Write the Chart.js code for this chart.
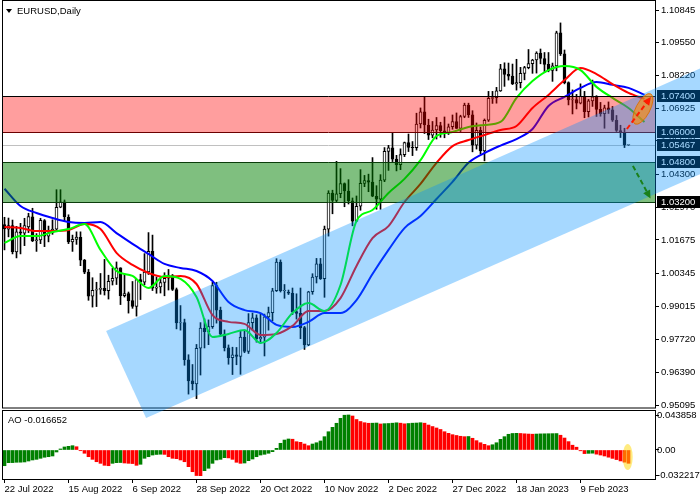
<!DOCTYPE html>
<html>
<head>
<meta charset="utf-8">
<script src="https://cdn.jsdelivr.net/npm/chart.js@4.4.0/dist/chart.umd.min.js"></script>
<style>
  html, body { margin: 0; padding: 0; background: #fff; }
  #wrap { width: 700px; height: 500px; position: relative; }
</style>
</head>
<body>
<div id="wrap"><canvas id="chart" width="700" height="500"></canvas></div>
<script>
// EURUSD daily bars, 22 Jul 2022 .. 27 Feb 2023
const opens = [
  1.0229, 1.0211, 1.0225, 1.0120, 1.0200, 1.0195, 1.0220, 1.0260, 1.0165, 1.0168,
  1.0245, 1.0183, 1.0196, 1.0211, 1.0298, 1.0320, 1.0258, 1.0160, 1.0170, 1.0178,
  1.0087, 1.0040, 0.9943, 0.9967, 0.9970, 0.9975, 0.9965, 1.0003, 1.0015, 1.0056,
  0.9945, 0.9954, 0.9926, 0.9903, 1.0010, 0.9999, 1.0040, 1.0122, 0.9975, 0.9980,
  0.9998, 1.0015, 1.0026, 0.9970, 0.9837, 0.9838, 0.9690, 0.9606, 0.9594, 0.9736,
  0.9816, 0.9802, 0.9822, 0.9986, 0.9888, 0.9792, 0.9738, 0.9698, 0.9710, 0.9703,
  0.9780, 0.9723, 0.9838, 0.9857, 0.9773, 0.9780, 0.9861, 0.9878, 0.9965, 1.0079,
  0.9965, 0.9960, 0.9955, 0.9882, 0.9875, 0.9818, 0.9749, 0.9961, 1.0020, 1.0072,
  1.0013, 1.0211, 1.0355, 1.0325, 1.0352, 1.0392, 1.0363, 1.0324, 1.0243, 1.0302,
  1.0393, 1.0404, 1.0398, 1.0342, 1.0330, 1.0406, 1.0521, 1.0535, 1.0490, 1.0468,
  1.0508, 1.0556, 1.0537, 1.0536, 1.0630, 1.0678, 1.0626, 1.0585, 1.0606, 1.0624,
  1.0603, 1.0594, 1.0619, 1.0640, 1.0612, 1.0660, 1.0705, 1.0667, 1.0546, 1.0605,
  1.0523, 1.0645, 1.0732, 1.0735, 1.0762, 1.0850, 1.0828, 1.0821, 1.0790, 1.0795,
  1.0832, 1.0855, 1.0871, 1.0885, 1.0913, 1.0891, 1.0868, 1.0844, 1.0862, 1.0993,
  1.0910, 1.0795, 1.0726, 1.0727, 1.0713, 1.0740, 1.0679, 1.0722, 1.0738, 1.0688,
  1.0671, 1.0694, 1.0686, 1.0645, 1.0604, 1.0595, 1.0547
];
const highs = [
  1.0258, 1.0255, 1.0247, 1.0222, 1.0234, 1.0254, 1.0274, 1.0294, 1.0193, 1.0254,
  1.0249, 1.0223, 1.0248, 1.0368, 1.0368, 1.0327, 1.0268, 1.0187, 1.0200, 1.0200,
  1.0090, 1.0050, 1.0017, 0.9999, 1.0034, 1.0090, 1.0027, 1.0055, 1.0080, 1.0057,
  1.0033, 0.9960, 1.0002, 1.0011, 1.0031, 1.0113, 1.0197, 1.0187, 1.0020, 1.0017,
  1.0037, 1.0050, 1.0030, 0.9976, 0.9906, 0.9852, 0.9710, 0.9671, 0.9751, 0.9838,
  0.9853, 0.9849, 0.9999, 0.9999, 0.9900, 0.9809, 0.9749, 0.9740, 0.9739, 0.9807,
  0.9807, 0.9874, 0.9876, 0.9869, 0.9874, 0.9872, 0.9900, 0.9975, 1.0093, 1.0088,
  0.9990, 0.9968, 0.9976, 0.9953, 0.9976, 0.9823, 0.9963, 1.0033, 1.0094, 1.0094,
  1.0223, 1.0364, 1.0366, 1.0481, 1.0452, 1.0395, 1.0408, 1.0335, 1.0343, 1.0448,
  1.0425, 1.0430, 1.0496, 1.0384, 1.0428, 1.0536, 1.0545, 1.0595, 1.0505, 1.0531,
  1.0558, 1.0590, 1.0560, 1.0673, 1.0694, 1.0737, 1.0649, 1.0640, 1.0656, 1.0637,
  1.0658, 1.0630, 1.0666, 1.0674, 1.0665, 1.0713, 1.0713, 1.0683, 1.0634, 1.0618,
  1.0650, 1.0760, 1.0760, 1.0776, 1.0868, 1.0874, 1.0873, 1.0869, 1.0888, 1.0856,
  1.0860, 1.0927, 1.0888, 1.0918, 1.0929, 1.0915, 1.0915, 1.0873, 1.1000, 1.1033,
  1.0925, 1.0798, 1.0766, 1.0748, 1.0790, 1.0760, 1.0728, 1.0805, 1.0743, 1.0716,
  1.0705, 1.0718, 1.0700, 1.0664, 1.0625, 1.0613, 1.0549
];
const lows = [
  1.0128, 1.0180, 1.0112, 1.0096, 1.0112, 1.0145, 1.0197, 1.0161, 1.0122, 1.0153,
  1.0141, 1.0160, 1.0190, 1.0202, 1.0296, 1.0243, 1.0153, 1.0122, 1.0150, 1.0065,
  1.0033, 0.9927, 0.9900, 0.9902, 0.9951, 0.9948, 0.9932, 0.9988, 0.9990, 0.9910,
  0.9940, 0.9876, 0.9895, 0.9864, 0.9930, 0.9989, 1.0030, 0.9966, 0.9955, 0.9956,
  0.9945, 0.9968, 0.9966, 0.9813, 0.9808, 0.9668, 0.9553, 0.9570, 0.9535, 0.9629,
  0.9737, 0.9750, 0.9815, 0.9836, 0.9785, 0.9725, 0.9672, 0.9631, 0.9670, 0.9632,
  0.9718, 0.9715, 0.9808, 0.9760, 0.9755, 0.9705, 0.9808, 0.9845, 0.9962, 0.9960,
  0.9935, 0.9950, 0.9870, 0.9852, 0.9774, 0.9731, 0.9746, 0.9951, 0.9996, 1.0010,
  0.9939, 1.0183, 1.0272, 1.0318, 1.0336, 1.0300, 1.0311, 1.0224, 1.0240, 1.0286,
  1.0380, 1.0360, 1.0340, 1.0290, 1.0290, 1.0400, 1.0445, 1.0480, 1.0443, 1.0448,
  1.0500, 1.0520, 1.0504, 1.0525, 1.0614, 1.0592, 1.0568, 1.0575, 1.0570, 1.0577,
  1.0575, 1.0588, 1.0609, 1.0612, 1.0600, 1.0655, 1.0656, 1.0519, 1.0530, 1.0511,
  1.0483, 1.0640, 1.0712, 1.0713, 1.0760, 1.0780, 1.0805, 1.0787, 1.0765, 1.0774,
  1.0806, 1.0850, 1.0832, 1.0833, 1.0870, 1.0835, 1.0838, 1.0800, 1.0842, 1.0903,
  1.0790, 1.0706, 1.0670, 1.0690, 1.0710, 1.0655, 1.0658, 1.0700, 1.0660, 1.0661,
  1.0613, 1.0672, 1.0640, 1.0600, 1.0576, 1.0536, 1.0545
];
const closes = [
  1.0212, 1.0225, 1.0121, 1.0200, 1.0195, 1.0225, 1.0261, 1.0164, 1.0168, 1.0246,
  1.0183, 1.0196, 1.0211, 1.0298, 1.0320, 1.0260, 1.0160, 1.0170, 1.0179, 1.0087,
  1.0039, 0.9943, 0.9967, 0.9970, 0.9975, 0.9965, 1.0003, 1.0015, 1.0056, 0.9945,
  0.9954, 0.9926, 0.9903, 1.0010, 0.9999, 1.0040, 1.0122, 0.9975, 0.9980, 0.9998,
  1.0015, 1.0026, 0.9970, 0.9837, 0.9838, 0.9690, 0.9606, 0.9594, 0.9736, 0.9816,
  0.9802, 0.9822, 0.9986, 0.9888, 0.9792, 0.9738, 0.9698, 0.9710, 0.9703, 0.9780,
  0.9723, 0.9838, 0.9857, 0.9773, 0.9780, 0.9861, 0.9878, 0.9965, 1.0079, 0.9965,
  0.9967, 0.9955, 0.9882, 0.9875, 0.9818, 0.9749, 0.9961, 1.0020, 1.0072, 1.0013,
  1.0211, 1.0355, 1.0325, 1.0352, 1.0392, 1.0363, 1.0324, 1.0243, 1.0302, 1.0393,
  1.0404, 1.0398, 1.0342, 1.0330, 1.0406, 1.0521, 1.0535, 1.0490, 1.0468, 1.0508,
  1.0556, 1.0537, 1.0536, 1.0630, 1.0678, 1.0626, 1.0585, 1.0606, 1.0624, 1.0603,
  1.0594, 1.0619, 1.0640, 1.0612, 1.0660, 1.0705, 1.0667, 1.0546, 1.0605, 1.0523,
  1.0645, 1.0732, 1.0735, 1.0762, 1.0850, 1.0828, 1.0821, 1.0790, 1.0795, 1.0832,
  1.0855, 1.0871, 1.0885, 1.0913, 1.0891, 1.0868, 1.0844, 1.0862, 1.0993, 1.0910,
  1.0795, 1.0726, 1.0727, 1.0713, 1.0740, 1.0679, 1.0722, 1.0738, 1.0688, 1.0671,
  1.0694, 1.0686, 1.0645, 1.0604, 1.0595, 1.0547, 1.0548
];

// Alligator lines, one reading every 4 bars
const maIndex = [0, 4, 8, 12, 16, 20, 24, 28, 32, 36, 40, 44, 48, 52, 56, 60, 64, 68, 72, 76, 80,
  84, 88, 92, 96, 100, 104, 108, 112, 116, 120, 124, 128, 132, 136, 140, 144, 148, 152, 156, 160];
const jaw = [1.0372, 1.0303, 1.0275, 1.0255, 1.0239, 1.0235, 1.0239, 1.0195, 1.0152, 1.0112,
  1.0072, 1.0056, 1.0044, 1.0004, 0.9920, 0.9888, 0.9876, 0.9829, 0.9821, 0.9841, 0.9876,
  0.9876, 0.9928, 1.0032, 1.0128, 1.0215, 1.0263, 1.0331, 1.0399, 1.0475, 1.0514, 1.0544,
  1.0570, 1.0610, 1.0702, 1.0738, 1.0774, 1.0797, 1.0786, 1.0774, 1.0746];
const teeth = [1.0219, 1.0215, 1.0203, 1.0203, 1.0207, 1.0231, 1.0211, 1.0116, 1.0068, 1.0036,
  1.0020, 1.0024, 0.9992, 0.9868, 0.9841, 0.9833, 0.9789, 0.9793, 0.9825, 0.9884, 0.9884,
  0.9936, 1.0064, 1.0175, 1.0223, 1.0319, 1.0391, 1.0475, 1.0542, 1.0566, 1.0586, 1.0606,
  1.0622, 1.0694, 1.0746, 1.0805, 1.0853, 1.0829, 1.0789, 1.0754, 1.0730];
const lips = [1.0156, 1.0183, 1.0183, 1.0199, 1.0211, 1.0231, 1.0128, 1.0044, 1.0024, 0.9976,
  1.0024, 1.0012, 0.9940, 0.9781, 0.9793, 0.9809, 0.9757, 0.9797, 0.9876, 0.9916, 0.9884,
  0.9988, 1.0243, 1.0287, 1.0355, 1.0411, 1.0486, 1.0582, 1.0598, 1.0618, 1.0626, 1.0638,
  1.0734, 1.0801, 1.0845, 1.0861, 1.0845, 1.0778, 1.0734, 1.0694, 1.0638];

// Awesome Oscillator, one per bar
const aoValues = [
  -0.0197, -0.0159, -0.0158, -0.0154, -0.0153, -0.0150, -0.0138, -0.0125, -0.0117, -0.0104,
  -0.0091, -0.0084, -0.0075, -0.0025, 0.0013, 0.0038, 0.0046, 0.0054, 0.0041, -0.0009,
  -0.0041, -0.0084, -0.0117, -0.0147, -0.0167, -0.0192, -0.0197, -0.0167, -0.0159, -0.0157,
  -0.0163, -0.0167, -0.0170, -0.0192, -0.0179, -0.0104, -0.0084, -0.0063, -0.0056, -0.0053,
  -0.0055, -0.0084, -0.0104, -0.0109, -0.0125, -0.0147, -0.0209, -0.0272, -0.0320, -0.0322,
  -0.0259, -0.0229, -0.0167, -0.0125, -0.0117, -0.0096, -0.0099, -0.0117, -0.0154, -0.0167,
  -0.0163, -0.0134, -0.0113, -0.0084, -0.0063, -0.0054, -0.0041, -0.0021, 0.0021, 0.0084,
  0.0125, 0.0138, 0.0135, 0.0104, 0.0096, 0.0075, 0.0054, 0.0075, 0.0091, 0.0113,
  0.0167, 0.0229, 0.0284, 0.0335, 0.0397, 0.0436, 0.0439, 0.0426, 0.0382, 0.0357,
  0.0342, 0.0335, 0.0336, 0.0338, 0.0326, 0.0330, 0.0332, 0.0336, 0.0341, 0.0336,
  0.0328, 0.0332, 0.0336, 0.0338, 0.0342, 0.0336, 0.0313, 0.0294, 0.0276, 0.0257,
  0.0229, 0.0209, 0.0192, 0.0182, 0.0172, 0.0167, 0.0169, 0.0147, 0.0117, 0.0091,
  0.0071, 0.0054, 0.0066, 0.0091, 0.0134, 0.0167, 0.0197, 0.0207, 0.0209, 0.0207,
  0.0203, 0.0200, 0.0198, 0.0200, 0.0202, 0.0203, 0.0204, 0.0205, 0.0206, 0.0185,
  0.0150, 0.0105, 0.0060, 0.0035, -0.0010, -0.0045, -0.0042, -0.0040, -0.0052, -0.0063,
  -0.0075, -0.0090, -0.0105, -0.0120, -0.0137, -0.0152, -0.016652
];

const dateTicks = [0, 16, 32, 48, 64, 80, 96, 112, 128, 144];
const dateLabels = ['22 Jul 2022', '15 Aug 2022', '6 Sep 2022', '28 Sep 2022', '20 Oct 2022',
  '10 Nov 2022', '2 Dec 2022', '27 Dec 2022', '18 Jan 2023', '9 Feb 2023'];
const priceTicks = [1.10845, 1.09550, 1.08220, 1.06925, 1.05630, 1.04300, 1.02970,
  1.01675, 1.00345, 0.99015, 0.97720, 0.96390, 0.95095];
const aoTicks = [0.043858, 0, -0.032217];

// drawn objects
const redZone = [1.0600, 1.0740];
const greenZone = [1.0320, 1.0480];
const lastPrice = 1.05467;
const levelLabels = [1.07400, 1.06000, 1.05467, 1.04800, 1.03200];
const channel = [[25.4, 0.98046], [35.4, 0.94577], [173.9, 1.04298], [173.9, 1.08512]];
const targetMark = [159.6, 1.0690];
const redArrow = [[155.6, 1.0610], [161.6, 1.0738]];
const greenArrow = [[157.1, 1.0463], [161.5, 1.0333]];
const aoMark = [155.8, -0.0088];

const font = { family: '"Liberation Sans", Arial, sans-serif', size: 9.5 };
const fontCss = '9.5px "Liberation Sans", Arial, sans-serif';

const bars = opens.map((_, i) => i);
const wicks = bars.map(i => ({ x: i, y: [lows[i], highs[i]] }));
const bodies = bars.map(i => ({ x: i, y: [opens[i], closes[i]] }));
const bodyFill = bars.map(i => closes[i] >= opens[i] ? '#ffffff' : '#000000');
const aoColors = aoValues.map((v, i) => (i === 0 || v > aoValues[i - 1]) ? '#008000' : '#ff0000');
const maLine = arr => maIndex.map((x, k) => ({ x: x, y: arr[k] }));

// no extra room for end labels, the panes must fill the canvas exactly
const noPadding = s => { s.paddingTop = 0; s.paddingBottom = 0; s.paddingLeft = 0; s.paddingRight = 0; };

function arrowHead(ctx, x0, y0, x1, y1, size) {
  const ang = Math.atan2(y1 - y0, x1 - x0);
  ctx.beginPath();
  ctx.moveTo(x1, y1);
  ctx.lineTo(x1 - size * Math.cos(ang - 0.45), y1 - size * Math.sin(ang - 0.45));
  ctx.lineTo(x1 - size * Math.cos(ang + 0.45), y1 - size * Math.sin(ang + 0.45));
  ctx.closePath();
  ctx.fill();
}

const overlay = {
  id: 'overlay',
  beforeDatasetsDraw(chart) {
    const { ctx, chartArea: a, scales: { y } } = chart;
    const py = Math.round(y.getPixelForValue(lastPrice)) + 0.5;
    ctx.save();
    ctx.strokeStyle = '#c0c0c0';
    ctx.lineWidth = 1;
    ctx.beginPath();
    ctx.moveTo(a.left, py);
    ctx.lineTo(a.right, py);
    ctx.stroke();
    ctx.restore();
  },
  afterDatasetsDraw(chart) {
    const { ctx, chartArea: a, scales: { y } } = chart;
    const hline = (py, color) => {
      ctx.strokeStyle = color;
      ctx.beginPath();
      ctx.moveTo(a.left, py + 0.5);
      ctx.lineTo(a.right, py + 0.5);
      ctx.stroke();
    };
    const zone = (range, fill, topColor, botColor) => {
      const yt = Math.round(y.getPixelForValue(range[1]));
      const yb = Math.round(y.getPixelForValue(range[0]));
      ctx.fillStyle = fill;
      ctx.fillRect(a.left, yt, a.right - a.left, yb - yt);
      hline(yt, topColor);
      hline(yb, botColor);
    };
    ctx.save();
    ctx.lineWidth = 1;
    zone(redZone, 'rgba(255,0,0,0.38)', '#000000', '#6b0000');
    zone(greenZone, 'rgba(0,128,0,0.5)', '#0b3d0b', '#0b3d0b');
    ctx.restore();
  },
  afterDraw(chart) {
    const { ctx, chartArea: a, scales: { x, y, ao } } = chart;
    ctx.save();

    // panel frames
    ctx.strokeStyle = '#000';
    ctx.lineWidth = 1;
    ctx.strokeRect(a.left + 0.5, 0.5, a.right - a.left, y.bottom - 0.5);
    ctx.strokeRect(a.left + 0.5, ao.top + 2.5, a.right - a.left, ao.bottom - ao.top - 2);

    // titles
    ctx.fillStyle = '#000';
    ctx.beginPath();
    ctx.moveTo(6, 9); ctx.lineTo(12, 9); ctx.lineTo(9, 13); ctx.closePath();
    ctx.fill();
    ctx.font = fontCss;
    ctx.textBaseline = 'middle';
    ctx.textAlign = 'left';
    ctx.fillText('EURUSD,Daily', 17, 11);
    ctx.fillText('AO ' + aoValues[aoValues.length - 1].toFixed(6), 8, ao.top + 12);

    // price level boxes
    levelLabels.forEach(v => {
      const py = Math.round(y.getPixelForValue(v));
      ctx.fillStyle = '#000';
      ctx.fillRect(a.right + 2, py - 6, 700 - a.right - 2, 12);
      ctx.fillStyle = '#fff';
      ctx.fillText(v.toFixed(5), a.right + 6, py + 0.5);
    });

    // channel
    ctx.fillStyle = 'rgba(0,143,255,0.35)';
    ctx.beginPath();
    channel.forEach((p, k) => {
      const px = x.getPixelForValue(p[0]), py = y.getPixelForValue(p[1]);
      if (k === 0) ctx.moveTo(px, py); else ctx.lineTo(px, py);
    });
    ctx.closePath();
    ctx.fill();

    // target ellipse and arrows
    const ex = x.getPixelForValue(targetMark[0]), ey = y.getPixelForValue(targetMark[1]);
    ctx.fillStyle = 'rgba(255,140,0,0.6)';
    ctx.strokeStyle = 'rgba(220,110,0,0.9)';
    ctx.beginPath();
    ctx.ellipse(ex, ey, 17, 7, -62 * Math.PI / 180, 0, Math.PI * 2);
    ctx.fill();
    ctx.stroke();

    const drawArrow = (pts, color) => {
      const x0 = x.getPixelForValue(pts[0][0]), y0 = y.getPixelForValue(pts[0][1]);
      const x1 = x.getPixelForValue(pts[1][0]), y1 = y.getPixelForValue(pts[1][1]);
      ctx.strokeStyle = color;
      ctx.fillStyle = color;
      ctx.lineWidth = 2;
      ctx.setLineDash([5, 3]);
      ctx.beginPath();
      ctx.moveTo(x0, y0);
      ctx.lineTo(x1 - (x1 - x0) * 0.15, y1 - (y1 - y0) * 0.15);
      ctx.stroke();
      ctx.setLineDash([]);
      arrowHead(ctx, x0, y0, x1, y1, 9);
    };
    drawArrow(redArrow, '#ff1a00');
    drawArrow(greenArrow, '#1a801a');

    // AO highlight
    ctx.fillStyle = 'rgba(255,215,0,0.5)';
    ctx.beginPath();
    ctx.ellipse(x.getPixelForValue(aoMark[0]), ao.getPixelForValue(aoMark[1]), 5, 13, 0, 0, Math.PI * 2);
    ctx.fill();

    ctx.restore();
  }
};

new Chart(document.getElementById('chart'), {
  data: {
    datasets: [
      { type: 'line', label: 'Lips', data: maLine(lips), borderColor: '#00ff00', borderWidth: 2,
        pointRadius: 0, cubicInterpolationMode: 'monotone', order: 0, yAxisID: 'y' },
      { type: 'line', label: 'Teeth', data: maLine(teeth), borderColor: '#ff0000', borderWidth: 2,
        pointRadius: 0, cubicInterpolationMode: 'monotone', order: 0, yAxisID: 'y' },
      { type: 'line', label: 'Jaw', data: maLine(jaw), borderColor: '#0000ff', borderWidth: 2,
        pointRadius: 0, cubicInterpolationMode: 'monotone', order: 0, yAxisID: 'y' },
      { type: 'bar', label: 'Body', data: bodies, backgroundColor: bodyFill, borderColor: '#000',
        borderWidth: 1, borderSkipped: false, barThickness: 3, grouped: false, order: 1, yAxisID: 'y' },
      { type: 'bar', label: 'Wick', data: wicks, backgroundColor: '#000', borderWidth: 0,
        barThickness: 1, grouped: false, order: 2, yAxisID: 'y' },
      { type: 'bar', label: 'AO', data: bars.map(i => ({ x: i, y: aoValues[i] })), backgroundColor: aoColors,
        borderWidth: 0, barThickness: 3, grouped: false, order: 3, yAxisID: 'ao' }
    ]
  },
  options: {
    responsive: false,
    animation: false,
    devicePixelRatio: 1,
    events: [],
    layout: { padding: { top: 2, left: 2, right: 0, bottom: 0 } },
    plugins: { legend: { display: false }, tooltip: { enabled: false } },
    scales: {
      x: {
        type: 'linear', position: 'bottom', min: -0.625, max: 162.625, offset: false,
        afterFit: s => { s.height = 21; noPadding(s); },
        afterBuildTicks: s => { s.ticks = dateTicks.map(v => ({ value: v })); },
        ticks: { callback: v => dateLabels[dateTicks.indexOf(v)], align: 'start', maxRotation: 0,
          autoSkip: false, font: font, color: '#000', padding: 1 },
        grid: { drawOnChartArea: false, drawTicks: true, tickLength: 4, color: '#000', offset: false },
        border: { display: false }
      },
      y: {
        type: 'linear', position: 'right', stack: 'panes', stackWeight: 406,
        min: 0.94976, max: 1.11164, z: 1,
        afterFit: s => { s.width = 45; noPadding(s); },
        afterBuildTicks: s => { s.ticks = priceTicks.map(v => ({ value: v })); },
        ticks: { callback: v => v.toFixed(5), font: font, color: '#000', padding: 2 },
        grid: { drawOnChartArea: false, drawTicks: true, tickLength: 4, color: '#000' },
        border: { display: false }
      },
      ao: {
        type: 'linear', position: 'right', stack: 'panes', stackWeight: 71,
        min: -0.03634, max: 0.05263, z: 1,
        afterFit: s => { s.width = 45; noPadding(s); },
        afterBuildTicks: s => { s.ticks = aoTicks.map(v => ({ value: v })); },
        ticks: { callback: v => v === 0 ? '0.00' : v.toFixed(6), font: font, color: '#000', padding: -2 },
        grid: { drawOnChartArea: false, drawTicks: true, tickLength: 4, color: '#000' },
        border: { display: false }
      }
    }
  },
  plugins: [overlay]
});
</script>
</body>
</html>
